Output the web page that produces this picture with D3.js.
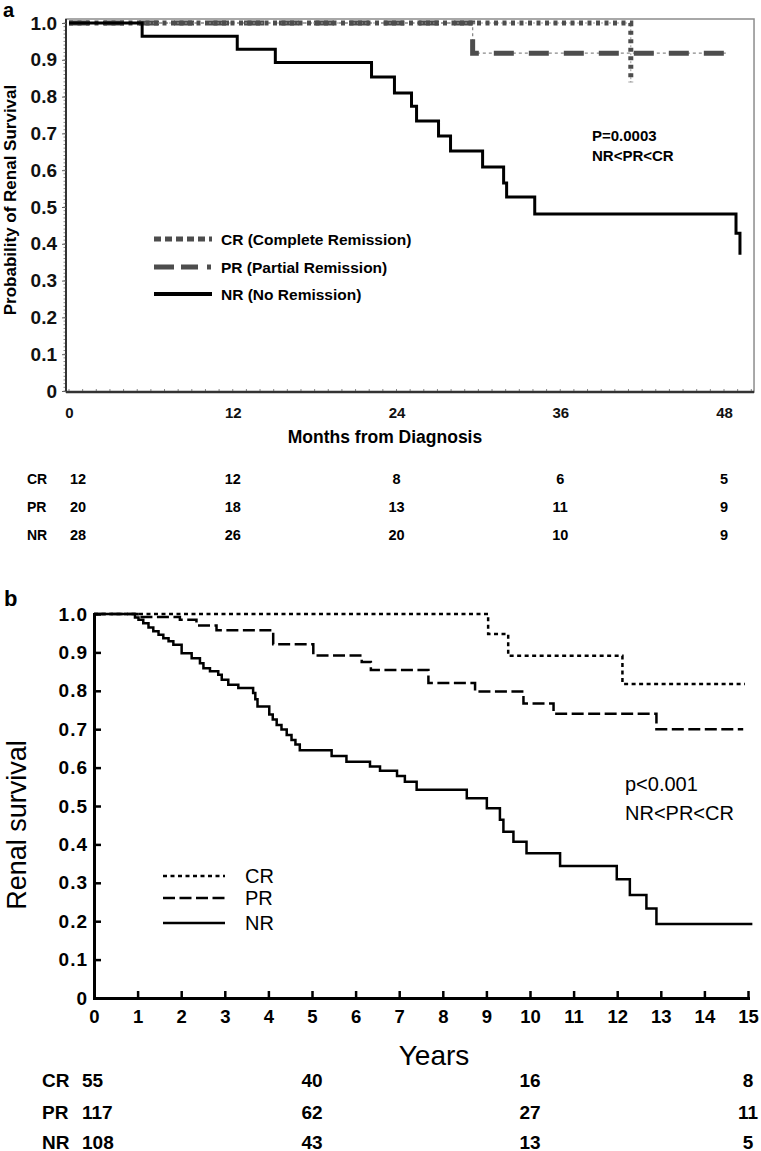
<!DOCTYPE html>
<html><head><meta charset="utf-8">
<script src="https://cdn.jsdelivr.net/npm/d3@7"></script>
<style>body{margin:0;background:#fff}svg{display:block}</style>
</head><body><svg id="c" width="761" height="1151"></svg>
<script>
// ---------- Panel a data (months from diagnosis) ----------
const aMonthTicks = [0, 12, 24, 36, 48];
const aProbTicks = [0, 0.1, 0.2, 0.3, 0.4, 0.5, 0.6, 0.7, 0.8, 0.9, 1.0];
const aCR_t = [0, 41.17];
const aCR_s = [1, 0.839];
const aPR_t = [0, 29.58, 48.29];
const aPR_s = [1, 0.918, 0.918];
const aNR_t = [0, 5.36, 12.33, 15.12, 22.17, 23.85, 25.10, 25.47, 27.08, 27.96, 30.31, 31.85, 32.07, 34.13, 48.88, 49.17];
const aNR_s = [1, 0.964, 0.929, 0.893, 0.853, 0.810, 0.774, 0.734, 0.693, 0.652, 0.609, 0.565, 0.527, 0.481, 0.429, 0.370];
const aGroups = ["CR", "PR", "NR"];
const aLegend = ["CR (Complete Remission)", "PR (Partial Remission)", "NR (No Remission)"];
const aRiskCR = [12, 12, 8, 6, 5];
const aRiskPR = [20, 18, 13, 11, 9];
const aRiskNR = [28, 26, 20, 10, 9];
const aPText = ["P=0.0003", "NR<PR<CR"];

// ---------- Panel b data (years) ----------
const bYearTicks = [0,1,2,3,4,5,6,7,8,9,10,11,12,13,14,15];
const bProbTicks = [0, 0.1, 0.2, 0.3, 0.4, 0.5, 0.6, 0.7, 0.8, 0.9, 1.0];
const bCR_t = [0, 9.04, 9.50, 12.12, 14.93];
const bCR_s = [1, 0.948, 0.891, 0.818, 0.818];
const bPR_t = [0, 1.00, 1.97, 2.35, 2.81, 4.11, 5.03, 6.14, 6.35, 7.67, 8.74, 9.85, 10.54, 12.90, 14.89];
const bPR_s = [1, 0.992, 0.985, 0.970, 0.958, 0.921, 0.892, 0.875, 0.854, 0.820, 0.798, 0.767, 0.740, 0.700, 0.700];
const bNR_t = [0,0.94,1.02,1.13,1.25,1.36,1.48,1.59,1.71,1.82,2.01,2.24,2.43,2.51,2.66,2.85,2.93,3.08,3.31,3.65,3.70,3.75,4.02,4.10,4.19,4.30,4.42,4.53,4.62,4.72,5.45,5.79,6.33,6.56,6.95,7.13,7.40,8.55,9.01,9.31,9.39,9.62,9.92,10.69,11.99,12.29,12.67,12.90,15.10];
const bNR_s = [1,0.991,0.985,0.976,0.965,0.955,0.946,0.937,0.929,0.920,0.898,0.885,0.872,0.859,0.851,0.842,0.829,0.816,0.807,0.794,0.778,0.759,0.738,0.725,0.711,0.699,0.685,0.672,0.660,0.645,0.630,0.615,0.603,0.592,0.578,0.563,0.542,0.520,0.494,0.464,0.433,0.407,0.377,0.344,0.309,0.268,0.233,0.193,0.193];
const bGroups = ["CR", "PR", "NR"];
const bRiskYears = [0, 5, 10, 15];
const bRiskCR = [55, 40, 16, 8];
const bRiskPR = [117, 62, 27, 11];
const bRiskNR = [108, 43, 13, 5];
const bPText = ["p<0.001", "NR<PR<CR"];

// ---------- drawing ----------
const FONT = "'Liberation Sans', Arial, Helvetica, sans-serif";
const svg = d3.select("#c").attr("font-family", FONT);
const zip = (t, s) => t.map((d, i) => [d, s[i]]);
const fmt = d => d === 0 ? "0" : d3.format(".1f")(d);

// ===== Panel a =====
const xA = d3.scaleLinear().domain([0, 48]).range([69, 724]);
const yA = d3.scaleLinear().domain([0, 1]).range([391, 23]);
const lineA = d3.line().x(d => xA(d[0])).y(d => yA(d[1])).curve(d3.curveStepAfter);
const aLeft = 66, aRight = xA(50.2), aTop = 19, aBottom = 392;

svg.append("text").attr("x", 3).attr("y", 17).attr("font-size", 20).attr("font-weight", "bold").text("a");

// frame
svg.append("rect").attr("x", aLeft).attr("y", aTop).attr("width", aRight - aLeft).attr("height", aBottom - aTop)
  .attr("fill", "none").attr("stroke", "#8c8c8c").attr("stroke-width", 1.5);
// minor ticks left
svg.append("g").selectAll("line").data(d3.range(0, 101)).join("line")
  .attr("x1", aLeft - 2.5).attr("x2", aLeft).attr("y1", d => yA(d / 100)).attr("y2", d => yA(d / 100))
  .attr("stroke", "#888").attr("stroke-width", 1);
// minor ticks bottom
svg.append("g").selectAll("line").data(d3.range(0, 51)).join("line")
  .attr("x1", d => xA(d)).attr("x2", d => xA(d)).attr("y1", aBottom).attr("y2", aBottom - 3)
  .attr("stroke", "#888").attr("stroke-width", 1);
svg.append("line").attr("x1", aLeft).attr("x2", aLeft).attr("y1", aTop).attr("y2", aBottom).attr("stroke", "#333").attr("stroke-width", 2);
svg.append("line").attr("x1", aLeft).attr("x2", aRight).attr("y1", aBottom).attr("y2", aBottom).attr("stroke", "#333").attr("stroke-width", 2.5);

const axYA = svg.append("g").attr("transform", `translate(${aLeft},0)`)
  .call(d3.axisLeft(yA).tickValues(aProbTicks).tickFormat(fmt).tickSize(4).tickPadding(5));
axYA.select(".domain").remove();
axYA.selectAll(".tick line").attr("stroke", "#666");
axYA.selectAll("text").attr("font-family", FONT).attr("font-size", 19).attr("font-weight", "bold").attr("fill", "#111");

const axXA = svg.append("g").attr("transform", `translate(0,${aBottom})`)
  .call(d3.axisBottom(xA).tickValues(aMonthTicks).tickSize(0).tickPadding(15));
axXA.select(".domain").remove();
axXA.selectAll("text").attr("font-family", FONT).attr("font-size", 15).attr("font-weight", "bold").attr("fill", "#111");

svg.append("text").attr("x", 385).attr("y", 443).attr("text-anchor", "middle").attr("font-size", 17.5)
  .attr("font-weight", "bold").text("Months from Diagnosis");
svg.append("text").attr("transform", "translate(16,200) rotate(-90)").attr("text-anchor", "middle")
  .attr("font-size", 17).attr("font-weight", "bold").text("Probability of Renal Survival");

// curves a
const prA = zip(aPR_t, aPR_s), crA = zip(aCR_t, aCR_s), nrA = zip(aNR_t, aNR_s);
svg.append("path").attr("d", lineA(prA)).attr("fill", "none").attr("stroke", "#8a8a8a").attr("stroke-width", 1.3).attr("stroke-dasharray", "3,3");
svg.append("path").attr("d", lineA(prA)).attr("fill", "none").attr("stroke", "#4d4d4d").attr("stroke-width", 5).attr("stroke-dasharray", "20,15");
svg.append("path").attr("d", lineA(crA)).attr("fill", "none").attr("stroke", "#999").attr("stroke-width", 1).attr("stroke-dasharray", "2,2");
svg.append("path").attr("d", lineA(crA)).attr("fill", "none").attr("stroke", "#4d4d4d").attr("stroke-width", 5).attr("stroke-dasharray", "4,4.5");
svg.append("path").attr("d", lineA(nrA)).attr("fill", "none").attr("stroke", "#000").attr("stroke-width", 3);

// legend a
const legAy = [239, 267, 294];
const legAstyle = [
  {c: "#4d4d4d", w: 5, d: "7,4"},
  {c: "#4d4d4d", w: 5, d: "20,7,17,9,4,100"},
  {c: "#000", w: 4, d: null}
];
aGroups.forEach((g, i) => {
  const l = svg.append("line").attr("x1", 154).attr("x2", 212).attr("y1", legAy[i]).attr("y2", legAy[i])
    .attr("stroke", legAstyle[i].c).attr("stroke-width", legAstyle[i].w);
  if (legAstyle[i].d) l.attr("stroke-dasharray", legAstyle[i].d);
  svg.append("text").attr("x", 221).attr("y", legAy[i]).attr("dominant-baseline", "central")
    .attr("font-size", 15.5).attr("font-weight", "bold").text(aLegend[i]);
});
aPText.forEach((t, i) => svg.append("text").attr("x", 592).attr("y", 135 + i * 20).attr("dominant-baseline", "central")
  .attr("font-size", 15).attr("font-weight", "bold").text(t));

// risk table a
const aRisk = [aRiskCR, aRiskPR, aRiskNR];
const aRowY = [479, 507, 535];
aGroups.forEach((g, i) => {
  svg.append("text").attr("x", 27).attr("y", aRowY[i]).attr("dominant-baseline", "central")
    .attr("font-size", 14).attr("font-weight", "bold").text(g);
  svg.append("g").selectAll("text").data(aRisk[i]).join("text")
    .attr("x", (d, j) => xA(aMonthTicks[j]) + (j === 0 ? 1 : 0))
    .attr("text-anchor", (d, j) => j === 0 ? "start" : "middle")
    .attr("y", aRowY[i]).attr("dominant-baseline", "central")
    .attr("font-size", 14.5).attr("font-weight", "bold").text(d => d);
});

// ===== Panel b =====
const xB = d3.scaleLinear().domain([0, 15]).range([94, 748]);
const yB = d3.scaleLinear().domain([0, 1]).range([998, 614]);
const lineB = d3.line().x(d => xB(d[0])).y(d => yB(d[1])).curve(d3.curveStepAfter);

svg.append("text").attr("x", 4).attr("y", 606).attr("font-size", 22).attr("font-weight", "bold").text("b");

const axYB = svg.append("g").attr("transform", `translate(${xB(0)},0)`)
  .call(d3.axisLeft(yB).tickValues(bProbTicks).tickFormat(fmt).tickSize(-7).tickSizeOuter(0).tickPadding(6));
axYB.select(".domain").attr("stroke-width", 3).attr("stroke-linecap", "square");
axYB.selectAll(".tick line").attr("stroke-width", 2.5);
axYB.selectAll("text").attr("font-family", FONT).attr("font-size", 19).attr("font-weight", "bold").attr("letter-spacing", 1).attr("fill", "#000");

const axXB = svg.append("g").attr("transform", `translate(0,${yB(0)})`)
  .call(d3.axisBottom(xB).tickValues(bYearTicks).tickSize(-7).tickSizeOuter(0).tickPadding(12));
axXB.select(".domain").attr("stroke-width", 3).attr("stroke-linecap", "square");
axXB.selectAll(".tick line").attr("stroke-width", 2.5);
axXB.selectAll("text").attr("font-family", FONT).attr("font-size", 18.5).attr("font-weight", "bold").attr("fill", "#000");

svg.append("text").attr("x", 434).attr("y", 1065).attr("text-anchor", "middle").attr("font-size", 28).text("Years");
svg.append("text").attr("transform", "translate(26,825) rotate(-90)").attr("text-anchor", "middle")
  .attr("font-size", 27).text("Renal survival");

const crB = zip(bCR_t, bCR_s), prB = zip(bPR_t, bPR_s), nrB = zip(bNR_t, bNR_s);
svg.append("path").attr("d", lineB(crB)).attr("fill", "none").attr("stroke", "#000").attr("stroke-width", 2.5).attr("stroke-dasharray", "4,3.5");
svg.append("path").attr("d", lineB(prB)).attr("fill", "none").attr("stroke", "#000").attr("stroke-width", 2.5).attr("stroke-dasharray", "12,4.5");
svg.append("path").attr("d", lineB(nrB)).attr("fill", "none").attr("stroke", "#000").attr("stroke-width", 2.5);

// legend b
const legBy = [876, 898, 923];
const legBdash = ["4,3.5", "12,4.5", null];
bGroups.forEach((g, i) => {
  const l = svg.append("line").attr("x1", 163).attr("x2", 225).attr("y1", legBy[i]).attr("y2", legBy[i])
    .attr("stroke", "#000").attr("stroke-width", 2.5);
  if (legBdash[i]) l.attr("stroke-dasharray", legBdash[i]);
  svg.append("text").attr("x", 245).attr("y", legBy[i]).attr("dominant-baseline", "central")
    .attr("font-size", 20).text(g);
});
bPText.forEach((t, i) => svg.append("text").attr("x", 625).attr("y", 784 + i * 29).attr("dominant-baseline", "central")
  .attr("font-size", 20).text(t));

// risk table b
const bRisk = [bRiskCR, bRiskPR, bRiskNR];
const bRowY = [1080, 1112, 1142];
bGroups.forEach((g, i) => {
  svg.append("text").attr("x", 42).attr("y", bRowY[i]).attr("dominant-baseline", "central")
    .attr("font-size", 19).attr("font-weight", "bold").text(g);
  svg.append("g").selectAll("text").data(bRisk[i]).join("text")
    .attr("x", (d, j) => j === 0 ? xB(0) - 12 : xB(bRiskYears[j]))
    .attr("text-anchor", (d, j) => j === 0 ? "start" : "middle")
    .attr("y", bRowY[i]).attr("dominant-baseline", "central")
    .attr("font-size", 19).attr("font-weight", "bold").text(d => d);
});
</script></body></html>
